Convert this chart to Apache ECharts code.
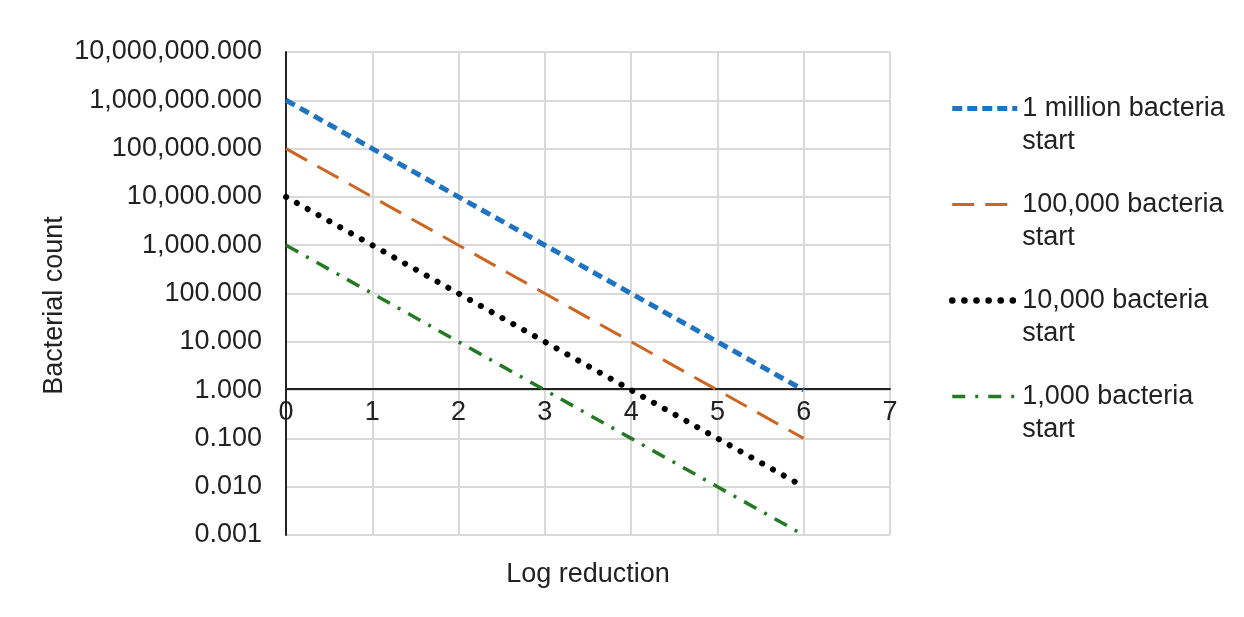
<!DOCTYPE html>
<html>
<head>
<meta charset="utf-8">
<script src="https://cdn.jsdelivr.net/npm/echarts@6/dist/echarts.min.js"></script>
<style>
  html, body { margin: 0; padding: 0; background: #fff; }
  #chart { width: 1244px; height: 617px; }
</style>
</head>
<body>
<div id="chart"></div>
<script>
var logReduction = [0, 1, 2, 3, 4, 5, 6];
var seriesNames = ['1 million bacteria start', '100,000 bacteria start', '10,000 bacteria start', '1,000 bacteria start'];
var million = [1000000, 100000, 10000, 1000, 100, 10, 1];
var hundredThousand = [100000, 10000, 1000, 100, 10, 1, 0.1];
var tenThousand = [10000, 1000, 100, 10, 1, 0.1, 0.01];
var thousand = [1000, 100, 10, 1, 0.1, 0.01, 0.001];

function pairs(vals) {
  return logReduction.map(function (x, i) { return [x, vals[i]]; });
}

function fmt(v) {
  var parts = Number(v).toFixed(3).split('.');
  parts[0] = parts[0].replace(/\B(?=(\d{3})+(?!\d))/g, ',');
  return parts.join('.');
}

var font = 'Liberation Sans, Arial, sans-serif';
var styles = [
  { color: '#1f74c2', width: 5, type: [10, 6] },
  { color: '#cc6622', width: 3, type: [24, 12] },
  { color: '#000000', width: 6, type: [0.1, 12.3], cap: 'round' },
  { color: '#237a23', width: 3.5, type: [14, 9, 3, 9] }
];
var legendStyles = [
  { color: '#1f74c2', width: 5, type: [10, 5] },
  { color: '#cc6622', width: 3, type: [22, 11] },
  { color: '#000000', width: 6.5, type: [0.1, 12], cap: 'round' },
  { color: '#237a23', width: 3.5, type: [13, 10, 3, 10] }
];
var seriesData = [million, hundredThousand, tenThousand, thousand];

var chart = echarts.init(document.getElementById('chart'));

var option = {
  animation: false,
  textStyle: { fontFamily: font },
  grid: { left: 286, top: 52, width: 604, height: 483 },
  legend: {
    orient: 'vertical',
    left: 944,
    top: 54,
    itemWidth: 65,
    itemHeight: 20,
    itemGap: -3,
    itemStyle: { opacity: 0 },
    formatter: function (name) {
      // blank first line keeps the icon level with the first text line
      return ' \n' + name.replace(' start', '\nstart');
    },
    textStyle: { fontSize: 27, color: '#222', lineHeight: 33, fontFamily: font },
    data: seriesNames.map(function (n, i) {
      return { name: n, itemStyle: { opacity: 0 }, lineStyle: legendStyles[i] };
    })
  },
  xAxis: [{
    type: 'value',
    min: 0, max: 7, interval: 1,
    position: 'bottom',
    offset: -146,
    axisLine: { show: true, lineStyle: { color: '#222', width: 2 } },
    axisTick: { show: false },
    axisLabel: { fontSize: 27, color: '#222', margin: 10 },
    splitLine: { show: true, lineStyle: { color: '#d9d9d9', width: 2 } }
  }, {
    type: 'value',
    min: 0, max: 7,
    position: 'bottom',
    name: 'Log reduction',
    nameLocation: 'middle',
    nameGap: 26,
    nameTextStyle: { fontSize: 27, color: '#222' },
    axisLine: { show: false }, axisTick: { show: false },
    axisLabel: { show: false }, splitLine: { show: false }
  }],
  yAxis: {
    type: 'log',
    logBase: 10,
    min: 0.001, max: 10000000,
    interval: 1,
    name: 'Bacterial count',
    nameLocation: 'middle',
    nameGap: 218,
    nameTextStyle: { fontSize: 27, color: '#222', padding: [0, 0, 0, -24] },
    axisLine: { show: true, lineStyle: { color: '#222', width: 2 } },
    axisTick: { show: false },
    axisLabel: { fontSize: 27, color: '#222', margin: 24, formatter: fmt },
    splitLine: { show: true, lineStyle: { color: '#d9d9d9', width: 2 } }
  },
  series: seriesNames.map(function (n, i) {
    return {
      name: n, type: 'line', data: pairs(seriesData[i]), symbol: 'none',
      lineStyle: styles[i], itemStyle: { color: styles[i].color }
    };
  })
};

chart.setOption(option);
</script>
</body>
</html>
